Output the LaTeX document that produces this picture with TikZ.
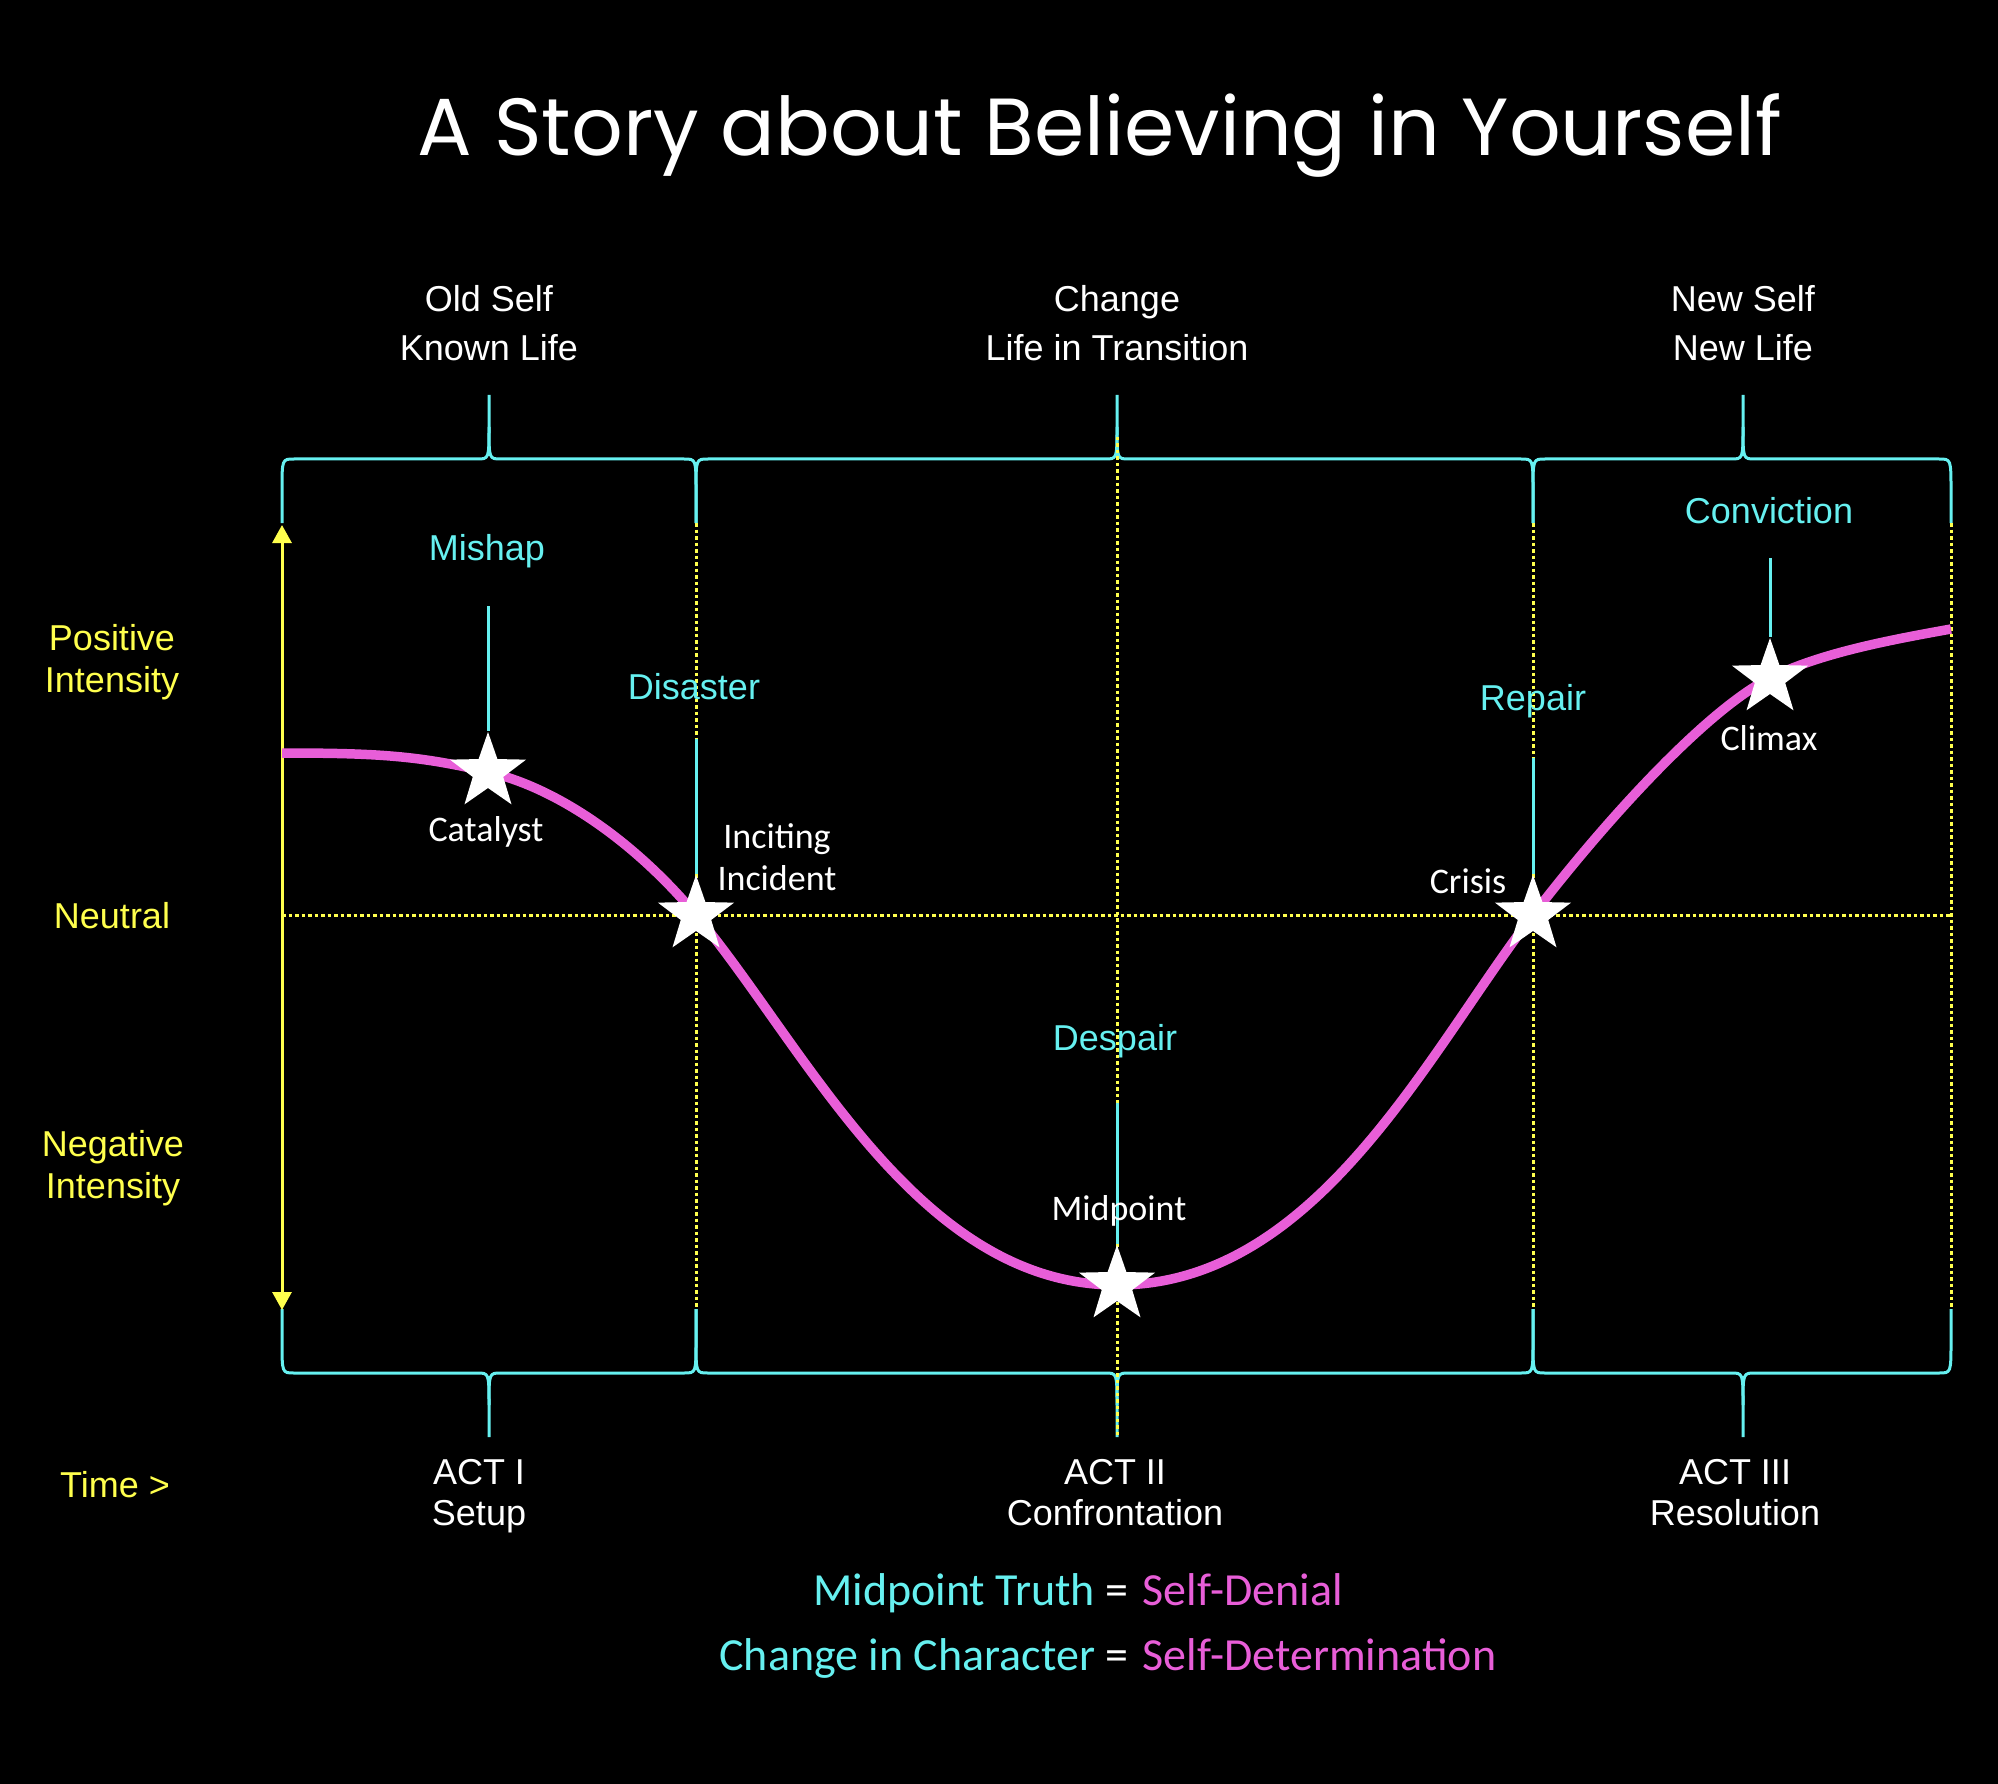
\documentclass[tikz,border=0pt]{standalone}
\usepackage{fontspec}
\setmainfont{Liberation Sans}
\newfontfamily\calibrifont{Carlito}
\newfontfamily\titlefont{Poppins}
\usetikzlibrary{shapes.geometric,arrows.meta}
\definecolor{arccyan}{RGB}{102,240,240}
\definecolor{arcpink}{RGB}{232,94,216}
\definecolor{arcyellow}{RGB}{255,255,77}
% #1 left x, #2 tip x, #3 right x, #4 end y, #5 line y, #6 tip y
\newcommand{\actbrace}[6]{%
  \draw[bracepath] (#1,#4) -- (#1,{(#4+#5)/2}) .. controls (#1,#5) .. ({#1+12},#5)
    -- ({#2-12},#5) .. controls (#2,#5) .. (#2,{(#5+#6)/2}) -- (#2,#6);
  \draw[bracepath] (#2,{(#5+#6)/2}) .. controls (#2,#5) .. ({#2+12},#5)
    -- ({#3-12},#5) .. controls (#3,#5) .. (#3,{(#4+#5)/2}) -- (#3,#4);}

\begin{document}
\begin{tikzpicture}[x=1pt,y=-1pt,
  bracepath/.style={draw=arccyan,line width=3pt,line join=round},
  dotline/.style={draw=arcyellow,line width=3pt,dash pattern=on 3.5pt off 3pt},
  pinline/.style={draw=arccyan,line width=3pt},
  arcstar/.style={star,star points=5,star point ratio=2.5,fill=white,draw=none,inner sep=0pt,minimum size=80pt},
  beat/.style={text=arccyan,font=\fontsize{36}{43}\selectfont,anchor=base},
  event/.style={text=white,font=\calibrifont\fontsize{36}{42}\selectfont,anchor=base,align=center},
  phase/.style={text=white,font=\fontsize{36}{49}\selectfont,anchor=base,align=center},
  act/.style={text=white,font=\fontsize{36}{41}\selectfont,anchor=base,align=center},
  axislbl/.style={text=arcyellow,font=\fontsize{36}{42}\selectfont,anchor=base,align=center},
  formula/.style={font=\calibrifont\fontsize{46}{54}\selectfont,inner sep=0pt,anchor=base}]
\fill[black] (0,0) rectangle (1998,1784);
\useasboundingbox (0,0) rectangle (1998,1784);

% title
\node[anchor=base,text=white,font=\titlefont\fontsize{81}{90}\selectfont] (title) at (1100,156) {A Story about Believing in Yourself};

% braces over and under the acts
\actbrace{282}{489}{696}{523}{459}{395}
\actbrace{696}{1117}{1533}{523}{459}{395}
\actbrace{1533}{1743}{1951}{523}{459}{395}
\actbrace{282}{489}{696}{1309}{1373}{1437}
\actbrace{696}{1117}{1533}{1309}{1373}{1437}
\actbrace{1533}{1743}{1951}{1309}{1373}{1437}

% grid
\draw[dotline] (282,915) -- (1951,915);
\draw[dotline] (696,523) -- (696,1309);
\draw[dotline] (1117,437) -- (1117,1437);
\draw[dotline] (1533,523) -- (1533,1309);
\draw[dotline] (1951,523) -- (1951,1309);

% intensity axis
\coordinate (axtop) at (282,525);
\coordinate (axbot) at (282,1310);
\draw[arcyellow,line width=3pt,{Triangle[width=19pt,length=18pt]}-{Triangle[width=19pt,length=18pt]}] (axtop) -- (axbot);

% story arc
\coordinate (start) at (282,753);
\coordinate (cat) at (488,772);
\coordinate (inc) at (696,915);
\coordinate (mid) at (1117,1285);
\coordinate (cri) at (1533,915);
\coordinate (cli) at (1770,678);
\coordinate (finish) at (1951,629);
\draw[arcpink,line width=9.5pt] (start) .. controls (380,753) and (420,756) .. (cat)
  .. controls (558,788) and (636,843) .. (inc)
  .. controls (806,1047) and (917,1285) .. (mid)
  .. controls (1317,1285) and (1428,1052) .. (cri)
  .. controls (1613,811) and (1710,708) .. (cli)
  .. controls (1820,653) and (1890,640) .. (finish);

\node[arcstar] (catalyst) at (cat) {};
\node[arcstar] (incite) at (inc) {};
\node[arcstar] (midstar) at (mid) {};
\node[arcstar] (crisis) at (cri) {};
\node[arcstar] (climax) at (cli) {};

\coordinate (mishaptop) at (488,606);
\coordinate (disastertop) at (696,739);
\coordinate (despairtop) at (1117,1103);
\coordinate (repairtop) at (1533,758);
\coordinate (convictiontop) at (1770,558);
\draw[pinline] (mishaptop) -- (catalyst.north);
\draw[pinline] (disastertop) -- (incite.north);
\draw[pinline] (despairtop) -- (midstar.north);
\draw[pinline] (repairtop) -- (crisis.north);
\draw[pinline] (convictiontop) -- (climax.north);

% labels (base = last line)
\node[phase] (oldself) at (489,361) {Old Self\\Known Life};
\node[phase] (change) at (1117,361) {Change\\Life in Transition};
\node[phase] (newself) at (1743,361) {New Self\\New Life};

\node[beat] (mishap) at (487,560) {Mishap};
\node[beat] (disaster) at (694,699) {Disaster};
\node[beat] (despair) at (1115,1050) {Despair};
\node[beat] (repair) at (1533,710) {Repair};
\node[beat] (conviction) at (1769,523) {Conviction};

\node[event] (catalystlbl) at (486,841) {Catalyst};
\node[event] (incitelbl) at (777,890) {Inciting\\Incident};
\node[event] (crisislbl) at (1468,893) {Crisis};
\node[event] (climaxlbl) at (1769,750) {Climax};
\node[event] (midlbl) at (1119,1220) {Midpoint};

\node[act] (act1) at (479,1525) {ACT I\\Setup};
\node[act] (act2) at (1115,1525) {ACT II\\Confrontation};
\node[act] (act3) at (1735,1525) {ACT III\\Resolution};

\node[axislbl] (positive) at (112,692) {Positive\\Intensity};
\node[axislbl] (neutral) at (112,928) {Neutral};
\node[axislbl] (negative) at (113,1198) {Negative\\Intensity};
\node[axislbl] (time) at (115,1497) {Time >};

% bottom summary
\node[formula,text=white] (eqa) at (1117,1605) {=};
\node[formula,text=arccyan,anchor=base east] (truth) at ([xshift=-10pt]eqa.base west) {Midpoint Truth};
\node[formula,text=arcpink,anchor=base west] (denial) at ([xshift=14pt]eqa.base east) {Self-Denial};
\node[formula,text=white] (eqb) at (1117,1670) {=};
\node[formula,text=arccyan,anchor=base east] (character) at ([xshift=-10pt]eqb.base west) {Change in Character};
\node[formula,text=arcpink,anchor=base west] (determination) at ([xshift=14pt]eqb.base east) {Self-Determination};
\end{tikzpicture}
\end{document}
